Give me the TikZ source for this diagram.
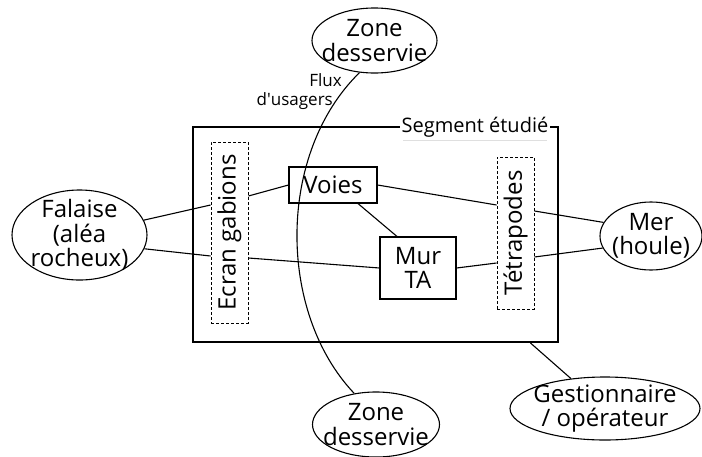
\documentclass[tikz,border=0pt]{standalone}
\usepackage{fontspec}
\setmainfont{Open Sans}
\usepackage{graphicx}
\usetikzlibrary{shapes.geometric}
\begin{document}
\begin{tikzpicture}[x=1pt,y=-1pt,
  txt/.style={font=\fontsize{24}{24.5}\selectfont, align=center, inner sep=0pt},
  oval/.style={draw, ellipse, line width=1.1pt, inner sep=0pt},
  box/.style={txt, draw, rectangle, line width=1.1pt},
  dbox/.style={txt, draw, rectangle, line width=0.9pt, dash pattern=on 3pt off 2pt},
  conn/.style={line width=1.1pt}]
\useasboundingbox (0,0) rectangle (702,456);
% study segment frame
\node[draw, rectangle, line width=2pt, minimum width=365pt, minimum height=215pt, inner sep=0pt] (seg) at (375.5,234.5) {};
\node[font=\fontsize{20}{24}\selectfont, fill=white, inner xsep=2pt, inner ysep=1pt] (seglbl) at (475,127) {Segment étudié};
\draw[gray!25, line width=0.6pt] (403,140) -- (547,140);
% outer ovals
\node[oval, minimum width=125pt, minimum height=65pt, label={[txt]center:{Zone\\desservie}}] (ztop) at (374.5,40.5) {};
\node[oval, minimum width=127pt, minimum height=65pt, label={[txt]center:{Zone\\desservie}}] (zbot) at (376,424.5) {};
\node[oval, minimum width=135pt, minimum height=90pt, label={[txt]center:{Falaise\\(aléa\\rocheux)}}] (fal) at (79.5,235) {};
\node[oval, minimum width=102pt, minimum height=68pt, label={[txt]center:{Mer\\(houle)}}] (mer) at (651,236) {};
\node[oval, minimum width=190pt, minimum height=63pt, label={[txt]center:{Gestionnaire\\/ opérateur}}] (gest) at (605,408.5) {};
% inner elements
\node[dbox, minimum width=37pt, minimum height=181pt] (ecr) at (229.5,232.5) {\rotatebox{90}{Ecran gabions}};
\node[dbox, minimum width=37pt, minimum height=152pt] (tet) at (515.5,233) {\rotatebox{90}{Tétrapodes}};
\node[box, minimum width=88pt, minimum height=36pt] (voies) at (333,185) {Voies};
\node[box, minimum width=76pt, minimum height=62pt] (mur) at (418,268) {Mur\\TA};
% flow label
\node[font=\fontsize{17}{19.5}\selectfont, align=right, inner sep=0pt, anchor=east] (flux) at (342,91.5) {Flux\\d\textquotesingle usagers\hspace*{9pt}};
% connectors
\draw[conn] (fal.13) -- ([yshift=27.5pt]ecr.west);
\draw[conn] (fal.-12) -- ([yshift=-23.5pt]ecr.west);
\draw[conn] ([yshift=36.5pt]ecr.east) -- (voies.west);
\draw[conn] ([yshift=-25.5pt]ecr.east) -- (mur.west);
\draw[conn] (voies.east) -- ([yshift=28pt]tet.west);
\draw[conn] ([xshift=25pt]voies.south) -- ([xshift=-21pt]mur.north);
\draw[conn] (mur.east) -- ([yshift=-30pt]tet.west);
\draw[conn] ([yshift=22pt]tet.east) -- (mer.164);
\draw[conn] ([yshift=-24pt]tet.east) -- (mer.194);
\draw[conn] (seg.-35.2) -- (gest);
\draw[conn] (ztop.-115) .. controls (277,153) and (277,312) .. (zbot.125);
\end{tikzpicture}
\end{document}
